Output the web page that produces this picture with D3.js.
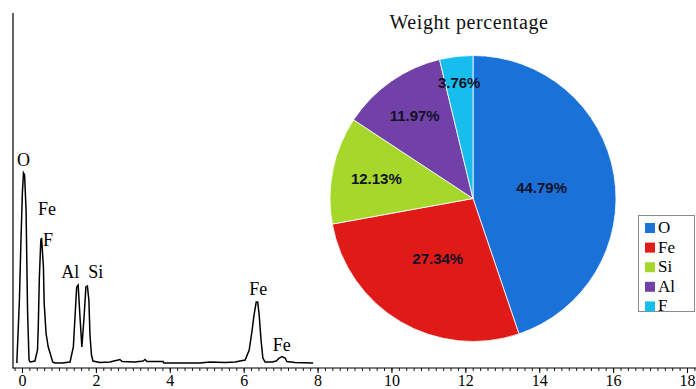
<!DOCTYPE html>
<html><head><meta charset="utf-8">
<script src="https://cdn.jsdelivr.net/npm/d3@7"></script>
<style>body{margin:0;background:#fff}svg{display:block}</style>
</head><body>
<script>
// Spectrum (energy keV, counts)
const specEnergy = [-0.14,-0.07,-0.03,0.01,0.04,0.07,0.11,0.13,0.15,0.19,0.22,0.35,0.42,0.44,0.47,0.51,0.53,0.58,0.60,0.65,0.71,0.76,0.83,0.89,1.08,1.30,1.39,1.43,1.48,1.52,1.57,1.62,1.68,1.73,1.77,1.81,1.84,1.88,1.92,2.11,2.38,2.60,2.65,2.71,3.06,3.28,3.33,3.38,3.82,3.84,4.82,5.09,5.50,5.77,5.90,6.04,6.15,6.23,6.28,6.34,6.38,6.42,6.47,6.52,6.58,6.77,6.88,6.96,7.04,7.12,7.17,7.39,7.88];
const specCounts = [50,680,1250,1750,1950,1930,1580,1080,580,80,60,70,180,410,910,1280,1300,1010,650,350,210,150,60,50,50,60,210,480,810,830,510,210,510,810,820,680,330,130,70,55,60,80,85,65,60,70,85,65,65,50,50,60,55,60,70,80,180,380,530,660,660,530,280,100,60,60,70,100,115,100,65,55,50];
const peakLabels = ["O","Fe","F","Al","Si","Fe","Fe"];
const peakLabelEnergy = [-0.135,0.43,0.57,1.06,1.79,6.15,6.79];
const peakLabelCounts = [2020,1530,1220,903,903,730,173];
const xMajorTicks = [0,2,4,6,8,10,12,14,16,18];

// Pie
const elements = ["O","Fe","Si","Al","F"];
const weightPct = [44.79,27.34,12.13,11.97,3.76];
const pieColors = ["#1a72d8","#e01a17","#a6d72b","#7241a7","#17bdec"];
const pieTitle = "Weight percentage";

const W = 696, H = 389;
const svg = d3.select("body").append("svg").attr("width", W).attr("height", H);
svg.append("rect").attr("width", W).attr("height", H).attr("fill", "#fff");

const x = d3.scaleLinear().domain([0, 18]).range([22, 687]);
const y = d3.scaleLinear().domain([0, 3550]).range([368, 13]);
const serif = "'Liberation Serif','Times New Roman',serif";

// axes lines
svg.append("line").attr("x1", 13).attr("x2", 13).attr("y1", 13).attr("y2", 368.5)
  .attr("stroke", "#000").attr("stroke-width", 1.2);
svg.append("line").attr("x1", 13).attr("x2", 696).attr("y1", 368).attr("y2", 368)
  .attr("stroke", "#000").attr("stroke-width", 1.2);

const minor = d3.range(-1, 92).map(i => i * 0.2).filter(v => x(v) > 13 && x(v) < 696);
const gMinor = svg.append("g").attr("transform", "translate(0,368)")
  .call(d3.axisBottom(x).tickValues(minor).tickSize(3).tickFormat("").tickSizeOuter(0));
gMinor.select(".domain").remove();
gMinor.selectAll("line").attr("stroke", "#000").attr("stroke-width", 0.9);

const gMajor = svg.append("g").attr("transform", "translate(0,368)")
  .call(d3.axisBottom(x).tickValues(xMajorTicks).tickSize(5).tickPadding(2).tickSizeOuter(0).tickFormat(d3.format("d")));
gMajor.select(".domain").remove();
gMajor.selectAll("line").attr("stroke", "#000").attr("stroke-width", 1);
gMajor.selectAll("text").attr("font-family", serif).attr("font-size", 16).attr("fill", "#000");

// spectrum
const spec = specEnergy.map((e, i) => [e, specCounts[i]]);
svg.append("path").datum(spec)
  .attr("d", d3.line().x(d => x(d[0])).y(d => y(d[1])))
  .attr("fill", "none").attr("stroke", "#000").attr("stroke-width", 1.5).attr("stroke-linejoin", "miter");

svg.selectAll("text.pk").data(peakLabels).enter().append("text")
  .attr("class", "pk")
  .attr("x", (d, i) => x(peakLabelEnergy[i]))
  .attr("y", (d, i) => y(peakLabelCounts[i]))
  .attr("font-family", serif).attr("font-size", 18).attr("fill", "#000")
  .text(d => d);

// pie
const cx = 473, cy = 198.5, R = 143;
const labelFrac = [0.486, 0.486, 0.69, 0.71, 0.82];
const pie = d3.pie().sort(null).value(d => d);
const arcs = pie(weightPct);
const arc = d3.arc().innerRadius(0).outerRadius(R);
const gp = svg.append("g").attr("transform", `translate(${cx},${cy})`);
gp.selectAll("path").data(arcs).enter().append("path")
  .attr("d", arc).attr("fill", (d, i) => pieColors[i])
  .attr("stroke", "#fff").attr("stroke-width", 0.8);
gp.selectAll("text").data(arcs).enter().append("text")
  .attr("transform", (d, i) => {
    const a = d3.arc().innerRadius(R * labelFrac[i]).outerRadius(R * labelFrac[i]);
    const c = a.centroid(d);
    return `translate(${c[0]},${c[1]})`;
  })
  .attr("text-anchor", "middle").attr("dominant-baseline", "central")
  .attr("font-family", "'Liberation Sans',Arial,sans-serif").attr("font-weight", "bold")
  .attr("font-size", 15).attr("fill", "#111128")
  .text(d => d.data.toFixed(2) + "%");

svg.append("text").attr("x", 469).attr("y", 29).attr("text-anchor", "middle")
  .attr("font-family", serif).attr("font-size", 20).attr("letter-spacing", 0.6)
  .attr("fill", "#111").text(pieTitle);

// legend
const lg = svg.append("g");
lg.append("rect").attr("x", 638.5).attr("y", 215.5).attr("width", 56).attr("height", 96)
  .attr("fill", "#fff").attr("stroke", "#8a8a8a").attr("stroke-width", 1);
elements.forEach((el, i) => {
  const yy = 223 + i * 19.6;
  lg.append("rect").attr("x", 645).attr("y", yy).attr("width", 10).attr("height", 10).attr("fill", pieColors[i]);
  lg.append("text").attr("x", 658).attr("y", yy + 10).attr("font-family", serif).attr("font-size", 17)
    .attr("fill", "#000").text(el);
});
</script>
</body></html>
